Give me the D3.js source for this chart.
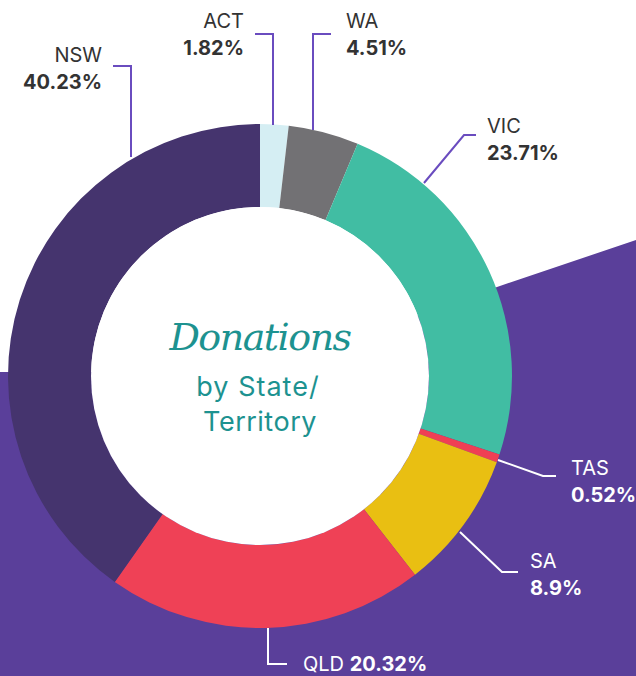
<!DOCTYPE html>
<html>
<head>
<meta charset="utf-8">
<script src="https://cdn.jsdelivr.net/npm/d3@7/dist/d3.min.js"></script>
<style>
html,body{margin:0;padding:0;background:#fff;}
svg{display:block;}
</style>
</head>
<body>
<svg id="chart" width="636" height="676"></svg>
<script>
const states = ["ACT","WA","VIC","TAS","SA","QLD","NSW"];
const shares = [1.82, 4.51, 23.71, 0.52, 8.9, 20.32, 40.23];
const shareLabels = ["1.82%","4.51%","23.71%","0.52%","8.9%","20.32%","40.23%"];
const colors = ["#d5eef3","#727174","#41bda3","#ef3f54","#e9bf12","#ef4156","#45346e"];

const svg = d3.select("#chart");
const W = 636, H = 676;
const cx = 260, cy = 376, R = 252, r = 169;
const FONT = "Inter, 'Open Sans', sans-serif";

// background purple shape
svg.append("path")
  .attr("d", d3.line()([[0,372],[260,372],[497,287],[636,240],[636,676],[0,676]]))
  .attr("fill", "#5a3f9a");

const g = svg.append("g").attr("transform", `translate(${cx},${cy})`);
const pie = d3.pie().sort(null).value(d => d.v).startAngle(0).endAngle(2*Math.PI);
const arc = d3.arc().innerRadius(r).outerRadius(R);
const data = states.map((s,i)=>({s, v: shares[i], c: colors[i], l: shareLabels[i]}));
g.selectAll("path.slice").data(pie(data)).join("path")
  .attr("class","slice")
  .attr("d", arc)
  .attr("fill", d => d.data.c);
g.append("circle").attr("r", r).attr("fill", "#fff");

// leader lines & labels (layout)
const layout = {
  NSW: {pts:[[113,66],[131,66],[131,157]], x:102, y:62, anchor:"end", stroke:"#6a4cbf", fill:"#333"},
  ACT: {pts:[[255,34],[273,34],[273,125]], x:244, y:28, anchor:"end", stroke:"#6a4cbf", fill:"#333"},
  WA:  {pts:[[331,34],[313,34],[313,130]], x:346, y:28, anchor:"start", stroke:"#6a4cbf", fill:"#333"},
  VIC: {pts:[[476,135],[464,135],[424,183]], x:487, y:133, anchor:"start", stroke:"#6a4cbf", fill:"#333"},
  TAS: {pts:[[498,460],[543,476],[556,476]], x:571, y:475, anchor:"start", stroke:"#ffffff", fill:"#fff"},
  SA:  {pts:[[460,532],[502,572],[518,572]], x:530, y:568, anchor:"start", stroke:"#ffffff", fill:"#fff"}
};
data.forEach(d => {
  const L = layout[d.s];
  if (!L) return;
  svg.append("path").attr("d", d3.line()(L.pts))
    .attr("fill","none").attr("stroke", L.stroke).attr("stroke-width", 2);
  const t = svg.append("text").attr("text-anchor", L.anchor)
    .attr("font-family", FONT).attr("fill", L.fill);
  t.append("tspan").attr("x", L.x).attr("y", L.y).attr("font-size", 20).attr("font-weight", 400).text(d.s);
  t.append("tspan").attr("x", L.x).attr("y", L.y + 27).attr("font-size", 20).attr("font-weight", 700).text(d.l);
});
// QLD
const qld = data.find(d => d.s === "QLD");
svg.append("path").attr("d", d3.line()([[268,628],[268,664],[287,664]]))
  .attr("fill","none").attr("stroke","#fff").attr("stroke-width",2);
const qt = svg.append("text").attr("x", 303).attr("y", 671)
  .attr("font-family", FONT).attr("fill","#fff").attr("font-size",20);
qt.append("tspan").attr("font-weight",400).text(qld.s + " ");
qt.append("tspan").attr("font-weight",700).text(qld.l);

// center title
svg.append("text").attr("x", cx).attr("y", 350).attr("text-anchor","middle")
  .attr("font-family","'DejaVu Serif', serif").attr("font-style","italic")
  .attr("font-size", 38).attr("fill","#1d9290").attr("letter-spacing", -1.5).text("Donations");
svg.append("text").attr("x", cx - 2).attr("y", 396).attr("text-anchor","middle")
  .attr("font-family", FONT).attr("letter-spacing", 1)
  .attr("font-size", 27).attr("fill","#1d9290").text("by State/");
svg.append("text").attr("x", cx).attr("y", 431).attr("text-anchor","middle")
  .attr("font-family", FONT).attr("letter-spacing", 0.5)
  .attr("font-size", 27).attr("fill","#1d9290").text("Territory");
</script>
</body>
</html>
